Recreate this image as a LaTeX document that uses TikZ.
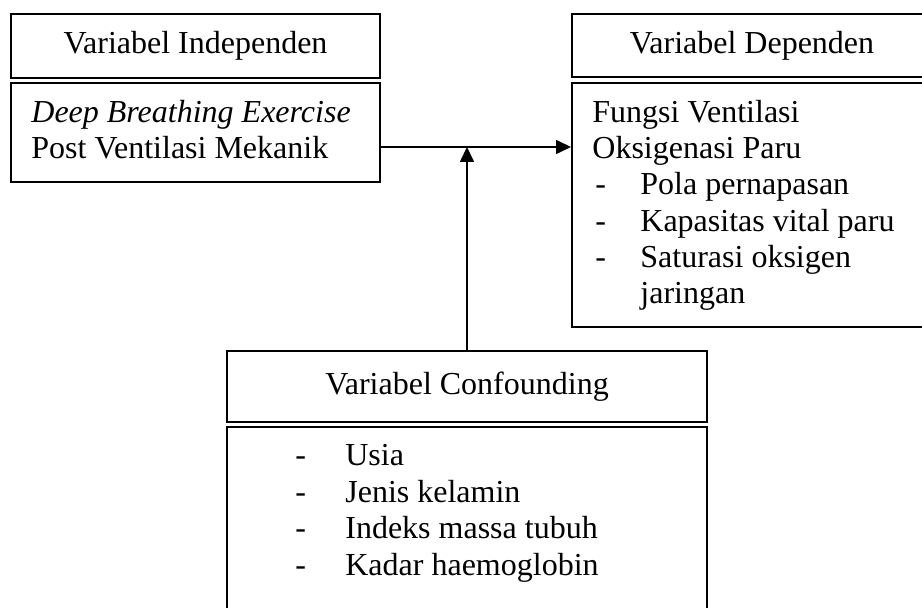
\documentclass[tikz,border=0pt]{standalone}
\usepackage{fontspec}
\setmainfont{Liberation Serif}
\usetikzlibrary{arrows.meta}

\begin{document}
\begin{tikzpicture}[x=0.5pt,y=-0.5pt,
    kotak/.style={draw, line width=1pt, inner sep=0pt, font=\fontsize{16}{18.1}\selectfont},
    teks/.style={inner sep=0pt, anchor=base west, font=\fontsize{16}{18.1}\selectfont},
    panah/.style={-{Triangle[length=7.5pt,width=7pt]}, line width=0.8pt}]
    \useasboundingbox (0,0) rectangle (922,608);
    \clip (0,0) rectangle (922,608);

    % variabel independen
    \node[kotak, minimum width=184.5pt, minimum height=32pt] (indhead) at (195.5,46) {Variabel Independen};
    \node[kotak, minimum width=184.5pt, minimum height=49.5pt] (indbody) at (195.5,132.5) {};
    \node[teks] (ind1) at (31,123) {\itshape Deep Breathing Exercise};
    \node[teks] (ind2) at (31,159) {Post Ventilasi Mekanik};

    % variabel dependen
    \node[kotak, minimum width=180pt, minimum height=31.5pt] (dephead) at (752,45.5) {Variabel Dependen};
    \node[kotak, minimum width=180pt, minimum height=122pt] (depbody) at (752,205) {};
    \node[teks] (dep1) at (592,123) {Fungsi Ventilasi};
    \node[teks] (dep2) at (592,159) {Oksigenasi Paru};
    \node[teks] (dep3) at (595,195) {\makebox[22.5pt][l]{-}Pola pernapasan};
    \node[teks] (dep4) at (595,232) {\makebox[22.5pt][l]{-}Kapasitas vital paru};
    \node[teks] (dep5) at (595,268) {\makebox[22.5pt][l]{-}Saturasi oksigen};
    \node[teks] (dep6) at (640,304) {jaringan};

    % variabel confounding
    \node[kotak, minimum width=240pt, minimum height=35.5pt] (confhead) at (467,386.5) {Variabel Confounding};
    \node[kotak, minimum width=240pt, minimum height=106.5pt] (confbody) at (467,533.5) {};
    \node[teks] (conf1) at (295,466) {\makebox[25pt][l]{-}Usia};
    \node[teks] (conf2) at (295,503) {\makebox[25pt][l]{-}Jenis kelamin};
    \node[teks] (conf3) at (295,539) {\makebox[25pt][l]{-}Indeks massa tubuh};
    \node[teks] (conf4) at (295,576) {\makebox[25pt][l]{-}Kadar haemoglobin};

    % panah
    \coordinate (temu) at (467,147);
    \draw[panah] (indbody.east |- temu) -- (depbody.west |- temu);
    \draw[panah] (confhead.north) -- (temu);
\end{tikzpicture}
\end{document}
